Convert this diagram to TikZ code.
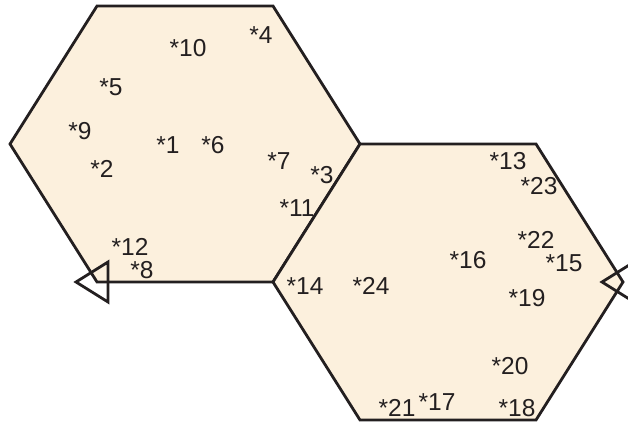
\documentclass[tikz,border=0pt]{standalone}
\usepackage{xcolor}
\usepackage{fontspec}
\setmainfont{Liberation Sans}
\usepackage{tikz}
\definecolor{hexfill}{HTML}{FCF0DD}
\definecolor{hexink}{HTML}{231F20}
\tikzset{
  hexline/.style={draw=hexink, line width=2.8pt},
  hexcell/.style={hexline, fill=hexfill},
  pt/.style={font=\fontsize{24.5}{28}\selectfont, text=hexink, inner sep=0pt},
  startmark/.pic={\draw[hexline] (-21,0) -- (11,-20) -- (11,20) -- cycle;}
}

\begin{document}
\begin{tikzpicture}[x=1pt, y=-1pt]
  \useasboundingbox (0,0) rectangle (628,423);
  \clip (0,0) rectangle (628,423);

  % cells
  \draw[hexcell] (97,6) -- (273,6) -- (360,144) -- (273,282) -- (97,282) -- (10,144) -- cycle;
  \draw[hexcell] (360,144) -- (536,144) -- (623,282) -- (536,420) -- (360,420) -- (273,282) -- cycle;
  \pic at (97,282) {startmark};
  \pic at (623,282) {startmark};

  % points, left cell
  \node[pt] (p1) at (168,145) {*1};
  \node[pt] (p2) at (102,169) {*2};
  \node[pt] (p3) at (322,175) {*3};
  \node[pt] (p4) at (261,35) {*4};
  \node[pt] (p5) at (111,87) {*5};
  \node[pt] (p6) at (213,145) {*6};
  \node[pt] (p7) at (279,161) {*7};
  \node[pt] (p8) at (142,270) {*8};
  \node[pt] (p9) at (80,131) {*9};
  \node[pt] (p10) at (188,48) {*10};
  \node[pt] (p11) at (297,208) {*11};
  \node[pt] (p12) at (130,247) {*12};

  % points, right cell
  \node[pt] (p13) at (508,161) {*13};
  \node[pt] (p14) at (305,286) {*14};
  \node[pt] (p15) at (564,263) {*15};
  \node[pt] (p16) at (468,260) {*16};
  \node[pt] (p17) at (437,402) {*17};
  \node[pt] (p18) at (517,408) {*18};
  \node[pt] (p19) at (527,298) {*19};
  \node[pt] (p20) at (510,366) {*20};
  \node[pt] (p21) at (397,408) {*21};
  \node[pt] (p22) at (536,240) {*22};
  \node[pt] (p23) at (539,186) {*23};
  \node[pt] (p24) at (371,286) {*24};
\end{tikzpicture}
\end{document}
